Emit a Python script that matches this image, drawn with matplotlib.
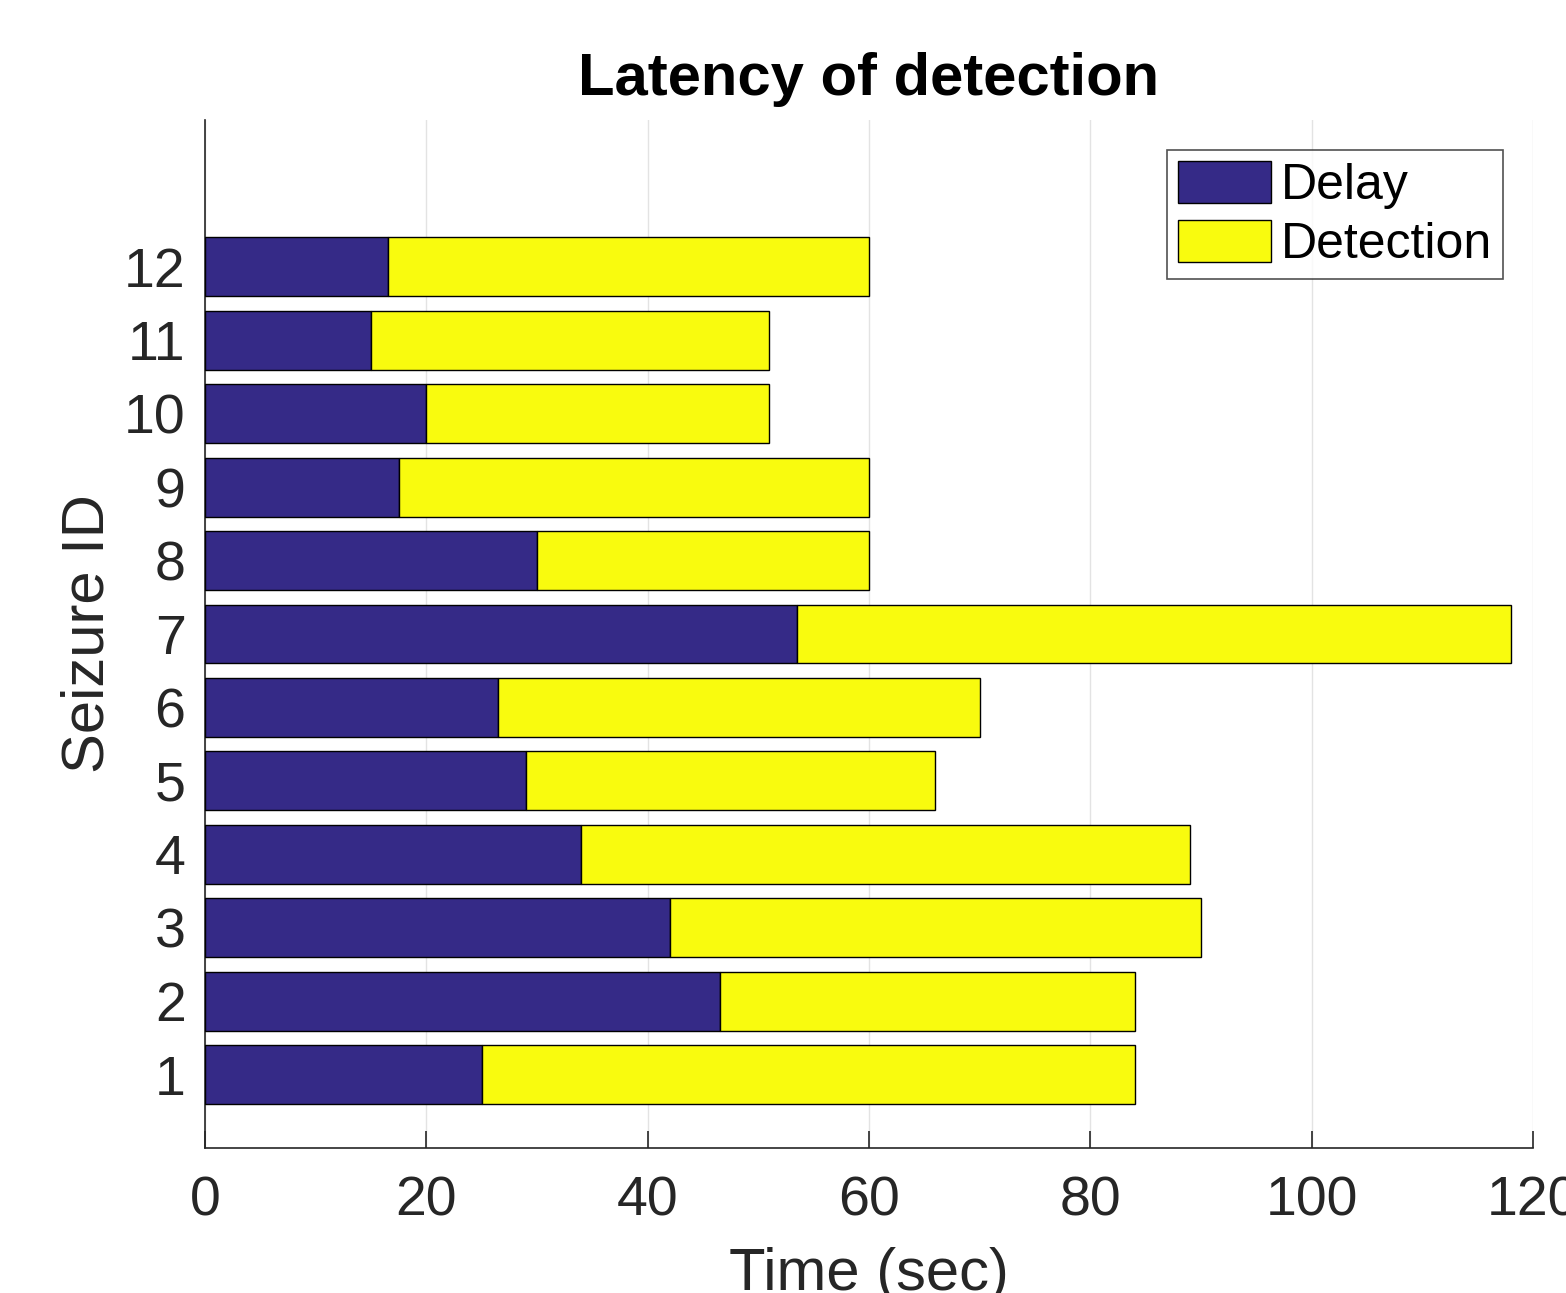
"""Stacked horizontal bars: latency of seizure detection."""

import matplotlib
matplotlib.use("Agg")
import matplotlib.pyplot as plt
import numpy as np

seizure_ids = np.arange(1, 13)
delay = [25, 46.5, 42, 34, 29, 26.5, 53.5, 30, 17.5, 20, 15, 16.5]
total = [84, 84, 90, 89, 66, 70, 118, 60, 60, 51, 51, 60]
detection = [t - d for t, d in zip(total, delay)]
xticks = [0, 20, 40, 60, 80, 100, 120]

plt.rcParams["font.family"] = ["Liberation Sans", "DejaVu Sans"]

fig = plt.figure(figsize=(15.66, 12.93), dpi=100)
ax = fig.add_axes([205 / 1566, 145 / 1293, 1328 / 1566, 1028 / 1293])

ax.barh(seizure_ids, delay, height=0.8, color="#352a87",
        edgecolor="black", linewidth=1, label="Delay", zorder=3)
ax.barh(seizure_ids, detection, left=delay, height=0.8, color="#f9fb0e",
        edgecolor="black", linewidth=1, label="Detection", zorder=3)

ax.set_xlim(0, 120)
ax.set_ylim(0, 14)
ax.set_xticks(xticks)
ax.set_yticks(seizure_ids)
ax.xaxis.grid(True, color="#e3e3e3", linewidth=1, zorder=0)
ax.set_axisbelow(True)

for side in ["top", "right"]:
    ax.spines[side].set_visible(False)
for side in ["left", "bottom"]:
    ax.spines[side].set_color("#262626")
    ax.spines[side].set_linewidth(1.2)

ax.tick_params(axis="both", direction="in", length=12, width=1.2,
               color="#262626", labelcolor="#262626", labelsize=40)
ax.tick_params(axis="x", pad=20)
ax.tick_params(axis="y", pad=14)

ax.set_title("Latency of detection", fontsize=43, fontweight="bold", pad=18)
ax.set_xlabel("Time (sec)", fontsize=43, color="#262626", labelpad=14)
ax.set_ylabel("Seizure ID", fontsize=43, color="#262626", labelpad=6)

leg = ax.legend(loc="upper right", bbox_to_anchor=(1503 / 1566, 1 - 150 / 1293),
                bbox_transform=fig.transFigure, fontsize=36, frameon=True,
                fancybox=False, edgecolor="#262626", handlelength=1.85,
                handleheight=0.9, handletextpad=0.2, borderpad=0.22,
                labelspacing=0.22, borderaxespad=0)
leg.get_frame().set_linewidth(1.2)

fig.savefig("out.png", dpi=100)
